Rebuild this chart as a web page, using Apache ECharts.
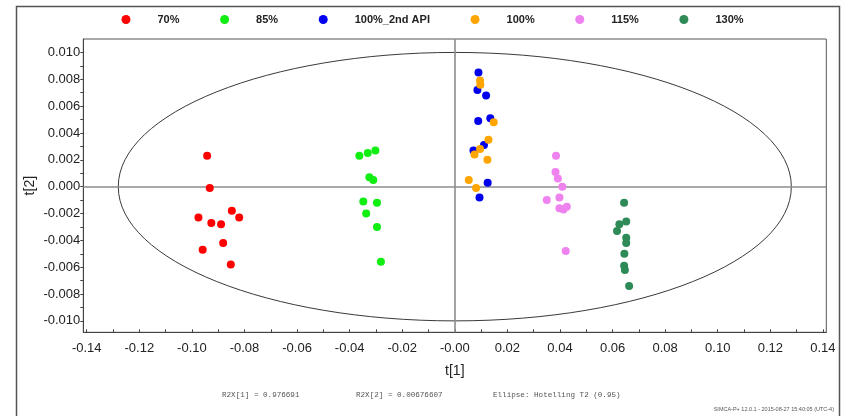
<!DOCTYPE html>
<html>
<head>
<meta charset="utf-8">
<script src="https://cdn.jsdelivr.net/npm/echarts@6/dist/echarts.min.js"></script>
<style>
  html, body { margin: 0; padding: 0; background: #fff; }
  #chart { width: 848px; height: 416px; }
</style>
</head>
<body>
<div id="chart"></div>
<script>
// Score plot t[1] vs t[2] with Hotelling T2 ellipse
const groupNames = ['70%', '85%', '100%_2nd API', '100%', '115%', '130%'];
const groupColors = ['#ff0000', '#11ee11', '#0000ee', '#ffa500', '#ee82ee', '#2e8b57'];

const scores70 = [[-0.0942, 0.0023], [-0.0932, -0.0001], [-0.0975, -0.0023], [-0.0926, -0.0027],
  [-0.0889, -0.0028], [-0.0848, -0.0018], [-0.0820, -0.0023], [-0.0881, -0.0042],
  [-0.0959, -0.0047], [-0.0852, -0.0058]];
const scores85 = [[-0.0363, 0.0023], [-0.0331, 0.0025], [-0.0302, 0.0027], [-0.0325, 0.0007],
  [-0.0310, 0.0005], [-0.0348, -0.0011], [-0.0296, -0.0012], [-0.0337, -0.0020],
  [-0.0296, -0.0030], [-0.0281, -0.0056]];
const scores100b = [[0.0090, 0.0085], [0.0086, 0.0072], [0.0119, 0.0068], [0.0089, 0.0049],
  [0.0135, 0.0051], [0.0111, 0.0031], [0.0071, 0.0027], [0.0125, 0.0003], [0.0094, -0.0008]];
const scores100 = [[0.0096, 0.0079], [0.0097, 0.0076], [0.0148, 0.0048], [0.0128, 0.0035],
  [0.0096, 0.0028], [0.0075, 0.0024], [0.0124, 0.0020], [0.0053, 0.0005], [0.0081, -0.0001]];
const scores115 = [[0.0385, 0.0023], [0.0383, 0.0011], [0.0392, 0.0006], [0.0409, 0.0000],
  [0.0350, -0.0010], [0.0398, -0.0008], [0.0398, -0.0016], [0.0413, -0.0017],
  [0.0426, -0.0015], [0.0422, -0.0048]];
const scores130 = [[0.0644, -0.0012], [0.0652, -0.0026], [0.0626, -0.0028], [0.0617, -0.0033],
  [0.0652, -0.0038], [0.0652, -0.0042], [0.0645, -0.0050], [0.0644, -0.0059],
  [0.0647, -0.0062], [0.0663, -0.0074]];
const groupScores = [scores70, scores85, scores100b, scores100, scores115, scores130];

// Hotelling T2 (0.95) ellipse semi-axes in t[1], t[2] units
const ellipseAxes = [0.128, 0.0100];

// Axis ranges and tick values
const xRange = [-0.1413, 0.1413];
const yRange = [-0.01085, 0.0110];
const xLabels = [-0.14, -0.12, -0.10, -0.08, -0.06, -0.04, -0.02, 0, 0.02, 0.04, 0.06, 0.08, 0.10, 0.12, 0.14];
const xTicks = [-0.14, -0.13, -0.12, -0.11, -0.10, -0.09, -0.08, -0.07, -0.06, -0.05, -0.04, -0.03, -0.02, -0.01, 0,
  0.01, 0.02, 0.03, 0.04, 0.05, 0.06, 0.07, 0.08, 0.09, 0.10, 0.11, 0.12, 0.13, 0.14];
const yLabels = [-0.010, -0.008, -0.006, -0.004, -0.002, 0, 0.002, 0.004, 0.006, 0.008, 0.010];
const yTicks = [-0.010, -0.009, -0.008, -0.007, -0.006, -0.005, -0.004, -0.003, -0.002, -0.001, 0,
  0.001, 0.002, 0.003, 0.004, 0.005, 0.006, 0.007, 0.008, 0.009, 0.010];

const statsLine = ['R2X[1] = 0.976691', 'R2X[2] = 0.00676607', 'Ellipse: Hotelling T2 (0.95)'];
const footer = 'SIMCA-P+ 12.0.1 - 2015-08-27 15:40:05 (UTC-4)';

const chart = echarts.init(document.getElementById('chart'));

const scatterSeries = groupNames.map((name, i) => ({
  name: name,
  type: 'scatter',
  data: groupScores[i],
  symbol: 'circle',
  symbolSize: 8,
  itemStyle: { color: groupColors[i], opacity: 1 },
  z: 5,
  silent: true
}));

const ellipseSeries = {
  name: 'T2',
  type: 'custom',
  data: [[0, 0]],
  z: 2,
  silent: true,
  clip: true,
  renderItem: function (params, api) {
    const c = api.coord([api.value(0), api.value(1)]);
    const e = api.coord([ellipseAxes[0], ellipseAxes[1]]);
    return {
      type: 'ellipse',
      shape: { cx: c[0], cy: c[1], rx: e[0] - c[0], ry: c[1] - e[1] },
      style: { fill: 'none', stroke: '#3a3a3a', lineWidth: 1 }
    };
  },
  markLine: {
    silent: true,
    symbol: 'none',
    label: { show: false },
    lineStyle: { color: '#8c8c8c', width: 1.6, type: 'solid' },
    emphasis: { disabled: true },
    data: [{ xAxis: 0 }, { yAxis: 0 }]
  }
};

chart.setOption({
  animation: false,
  backgroundColor: '#ffffff',
  legend: {
    data: groupNames,
    left: 121.5,
    top: 14,
    padding: 0,
    itemWidth: 9,
    itemHeight: 9,
    itemGap: 40.6,
    icon: 'circle',
    selectedMode: false,
    textStyle: {
      fontFamily: 'Liberation Sans, Arial, sans-serif',
      fontSize: 11,
      fontWeight: 'bold',
      color: '#222',
      padding: [0, 0, 0, 22]
    }
  },
  grid: {
    left: 83.3,
    right: 21.7,
    top: 39,
    bottom: 83.7,
    show: true,
    borderColor: '#555',
    borderWidth: 1,
    backgroundColor: 'transparent'
  },
  xAxis: {
    type: 'value',
    min: xRange[0],
    max: xRange[1],
    name: 't[1]',
    nameLocation: 'middle',
    nameGap: 32,
    nameMoveOverlap: false,
    nameTextStyle: { fontFamily: 'Liberation Sans, Arial, sans-serif', fontSize: 14, color: '#222' },
    axisLine: { show: true, onZero: false, lineStyle: { color: '#444', width: 1 } },
    axisTick: { show: true, inside: true, length: 3, customValues: xTicks, lineStyle: { color: '#444' } },
    axisLabel: {
      customValues: xLabels,
      margin: 10,
      fontFamily: 'Liberation Sans, Arial, sans-serif',
      fontSize: 13,
      color: '#222',
      formatter: v => (Math.abs(v) < 1e-9 ? '-0.00' : v.toFixed(2))
    },
    splitLine: { show: false }
  },
  yAxis: {
    type: 'value',
    min: yRange[0],
    max: yRange[1],
    name: 't[2]',
    nameLocation: 'middle',
    nameGap: 46,
    nameMoveOverlap: false,
    nameRotate: 90,
    nameTextStyle: { fontFamily: 'Liberation Sans, Arial, sans-serif', fontSize: 14, color: '#222' },
    axisLine: { show: true, onZero: false, lineStyle: { color: '#444', width: 1 } },
    axisTick: { show: true, inside: false, length: 3, customValues: yTicks, lineStyle: { color: '#444' } },
    axisLabel: {
      customValues: yLabels,
      margin: 3,
      fontFamily: 'Liberation Sans, Arial, sans-serif',
      fontSize: 13,
      color: '#222',
      formatter: v => (Math.abs(v) < 1e-12 ? '0.000' : v.toFixed(3))
    },
    splitLine: { show: false }
  },
  graphic: [
    {
      type: 'rect',
      shape: { x: 16.5, y: 6.5, width: 823, height: 420 },
      style: { fill: 'none', stroke: '#555', lineWidth: 1.5 },
      silent: true,
      z: 0
    },
    {
      type: 'text', left: 222, top: 391, silent: true,
      style: { text: statsLine[0], font: '7.6px "Liberation Mono", monospace', fill: '#555' }
    },
    {
      type: 'text', left: 356, top: 391, silent: true,
      style: { text: statsLine[1], font: '7.6px "Liberation Mono", monospace', fill: '#555' }
    },
    {
      type: 'text', left: 493, top: 391, silent: true,
      style: { text: statsLine[2], font: '7.6px "Liberation Mono", monospace', fill: '#555' }
    },
    {
      type: 'text', right: 14, top: 406, silent: true,
      style: { text: footer, font: '5.5px "Liberation Sans", Arial, sans-serif', fill: '#555' }
    }
  ],
  series: [ellipseSeries].concat(scatterSeries)
});
</script>
</body>
</html>
